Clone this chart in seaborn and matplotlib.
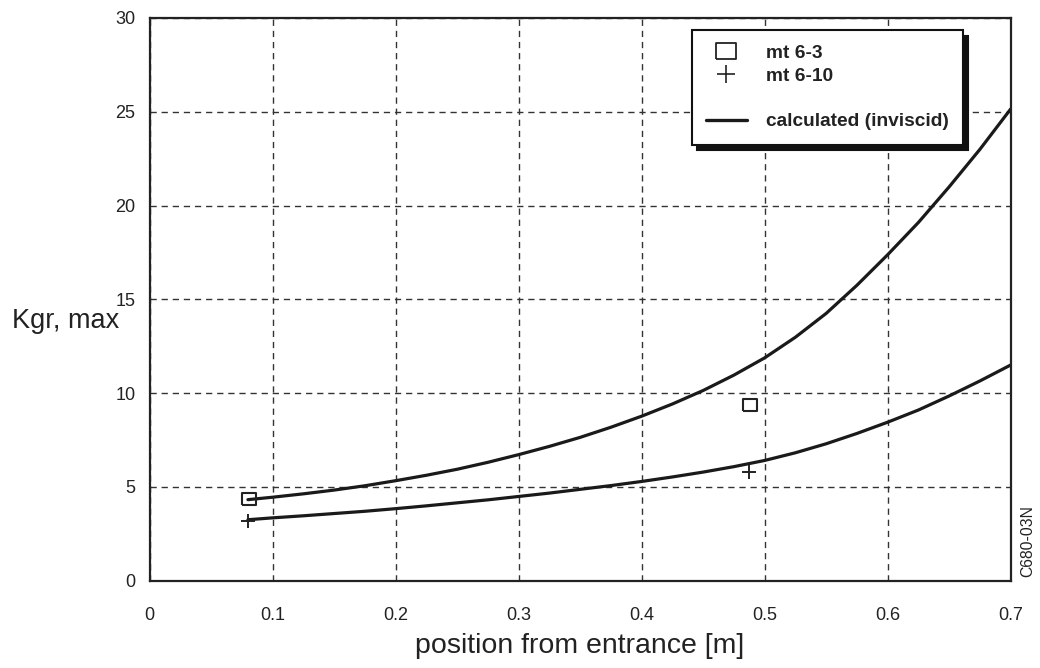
import matplotlib
matplotlib.use("Agg")
import matplotlib.pyplot as plt
from matplotlib.lines import Line2D
import seaborn as sns
import pandas as pd

# ---- data ----
curve_x = [0.08, 0.10, 0.125, 0.15, 0.175, 0.20, 0.225, 0.25, 0.275, 0.30, 0.325, 0.35, 0.375,
           0.40, 0.425, 0.45, 0.475, 0.50, 0.525, 0.55, 0.575, 0.60, 0.625, 0.65, 0.675, 0.70]
calc_upper = [4.32, 4.45, 4.63, 4.83, 5.06, 5.33, 5.62, 5.94, 6.31, 6.72, 7.16, 7.64, 8.18,
              8.77, 9.42, 10.14, 10.96, 11.88, 12.98, 14.25, 15.75, 17.38, 19.10, 21.0, 23.0, 25.15]
calc_lower = [3.25, 3.35, 3.46, 3.58, 3.70, 3.84, 3.99, 4.15, 4.31, 4.49, 4.67, 4.87, 5.07,
              5.29, 5.53, 5.79, 6.08, 6.41, 6.82, 7.30, 7.85, 8.45, 9.10, 9.85, 10.65, 11.5]

mt63_x = [0.081, 0.488]
mt63_y = [4.35, 9.37]
mt610_x = [0.080, 0.487]
mt610_y = [3.20, 5.82]

x_ticks = [0, 0.1, 0.2, 0.3, 0.4, 0.5, 0.6, 0.7]
x_tick_labels = ["0", "0.1", "0.2", "0.3", "0.4", "0.5", "0.6", "0.7"]
y_ticks = [0, 5, 10, 15, 20, 25, 30]
y_tick_labels = ["0", "5", "10", "15", "20", "25", "30"]

legend_labels = ["mt 6-3", "mt 6-10", "calculated (inviscid)"]
x_label = "position from entrance [m]"
y_label = "Kgr, max"
side_note = "C680-03N"

# ---- style ----
sns.set_style("white")
plt.rcParams["font.family"] = ["Liberation Sans", "DejaVu Sans"]

fig = plt.figure(figsize=(10.4, 6.68), dpi=100)
ax = fig.add_axes([0.14375, 0.1307, 0.8281, 0.8424])

df_curves = pd.DataFrame({
    "x": curve_x + curve_x,
    "y": calc_upper + calc_lower,
    "curve": ["upper"] * len(curve_x) + ["lower"] * len(curve_x),
})
sns.lineplot(data=df_curves, x="x", y="y", hue="curve", units="curve", estimator=None,
             palette={"upper": "#1a1a1a", "lower": "#1a1a1a"}, linewidth=2.3,
             legend=False, ax=ax, sort=True)

rect_marker = [(-1.25, -1.0), (1.25, -1.0), (1.25, 1.0), (-1.25, 1.0), (-1.25, -1.0)]
sns.scatterplot(x=mt63_x, y=mt63_y, marker=rect_marker, s=105, facecolor="none",
                edgecolor="#222222", linewidth=1.5, ax=ax, zorder=5)
sns.scatterplot(x=mt610_x, y=mt610_y, marker="+", s=110, color="#222222",
                linewidth=1.4, ax=ax, zorder=5)

ax.set_xlim(0, 0.7)
ax.set_ylim(0, 30)
ax.set_xticks(x_ticks)
ax.set_xticklabels(x_tick_labels)
ax.set_yticks(y_ticks)
ax.set_yticklabels(y_tick_labels)
ax.tick_params(axis="x", length=0, pad=19, labelsize=13, labelcolor="#222222")
ax.tick_params(axis="y", length=0, pad=10, labelsize=13, labelcolor="#222222")

ax.grid(True, linestyle=(0, (4.5, 3.5)), color="#333333", linewidth=1.0)
for s in ax.spines.values():
    s.set_visible(True)
    s.set_color("#222222")
    s.set_linewidth(1.6)

ax.set_xlabel(x_label, fontsize=20.5, color="#222222")
ax.xaxis.set_label_coords(0.5, -0.128)
ax.xaxis.label.set_va("baseline")
ax.set_ylabel(y_label, fontsize=19.5, rotation=0, color="#222222", ha="right", va="baseline")
ax.yaxis.set_label_coords(-0.035, 0.449)

handles = [
    Line2D([], [], marker=rect_marker, markersize=15, markerfacecolor="none",
           markeredgecolor="#222222", markeredgewidth=1.3, linestyle="none"),
    Line2D([], [], marker="+", markersize=13, color="#222222", markeredgewidth=1.2, linestyle="none"),
    Line2D([], [], linestyle="none"),
    Line2D([], [], color="#1a1a1a", linewidth=2.4),
]
labels = [legend_labels[0], legend_labels[1], "", legend_labels[2]]
leg = ax.legend(handles, labels, loc="upper right", bbox_to_anchor=(0.9446, 0.978),
                borderaxespad=0.0,
                frameon=True, fancybox=False, framealpha=1, edgecolor="#111111",
                prop={"weight": "bold", "size": 13.8}, labelspacing=0.28,
                handlelength=2.1, handletextpad=1.0, borderpad=0.75,
                shadow={"color": "#111111", "alpha": 1.0, "ox": 3.8, "oy": -3.8})
leg.get_frame().set_linewidth(1.5)
for t in leg.get_texts():
    t.set_color("#222222")

fig.text(1028 / 1040, (668 - 541) / 668, side_note, rotation=90, ha="center", va="center",
         fontsize=11.3, color="#222222")

fig.savefig("out.png", dpi=100, facecolor="white")
